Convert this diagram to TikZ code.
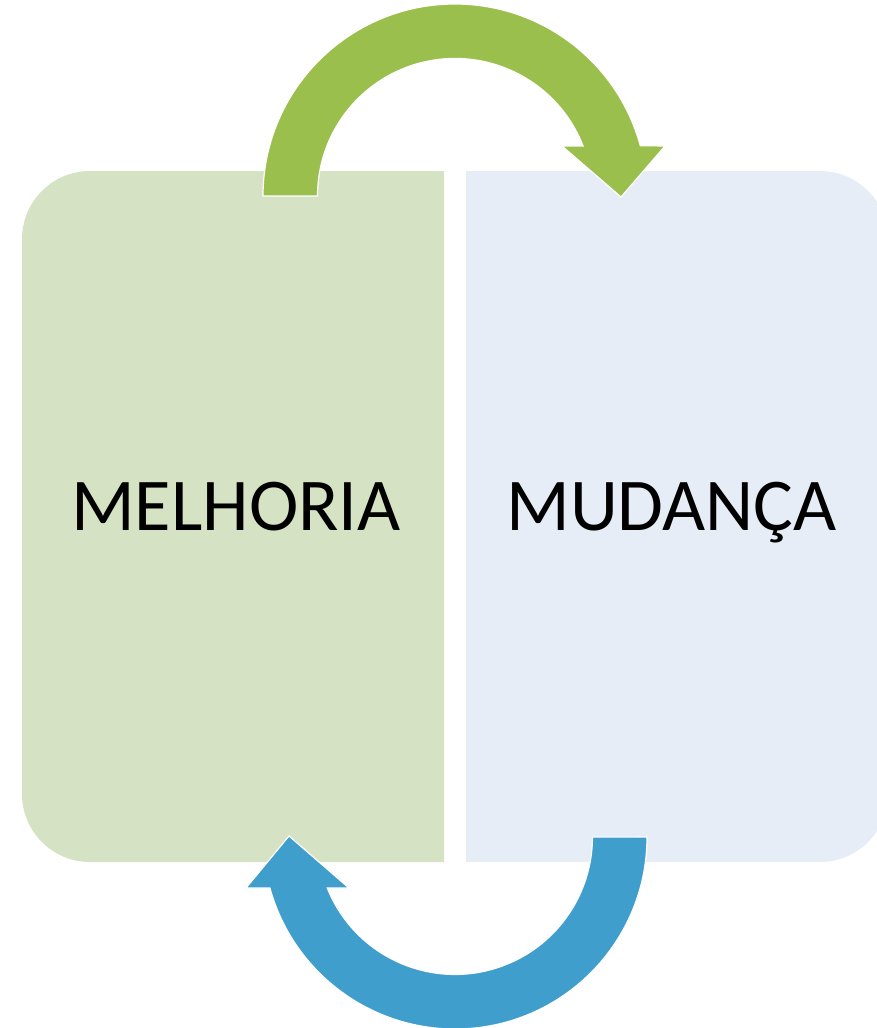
\documentclass[tikz,border=0pt]{standalone}
\usepackage{fontspec}
\setmainfont{Carlito}
\definecolor{leftfill}{RGB}{213,226,195}
\definecolor{rightfill}{RGB}{231,237,246}
\definecolor{greenarrow}{RGB}{155,191,76}
\definecolor{bluearrow}{RGB}{64,158,205}
\tikzset{
  label text/.style={font=\fontsize{74.5}{80}\selectfont, text=black, anchor=base, inner sep=0pt},
  cyclearrow/.style={draw=white, line width=1.2pt, line join=miter}
}
\begin{document}
\begin{tikzpicture}[x=1pt,y=1pt]
\useasboundingbox (0,0) rectangle (876,-1028);
% boxes
\fill[leftfill] (444,-171) -- (90,-171) arc[start angle=90,end angle=180,radius=68]
  -- (22,-794) arc[start angle=180,end angle=270,radius=68] -- (444,-862) -- cycle;
\fill[rightfill] (466,-171) -- (820,-171) arc[start angle=90,end angle=0,radius=68]
  -- (888,-794) arc[start angle=0,end angle=-90,radius=68] -- (466,-862) -- cycle;
% labels
\node[label text] (melhoria) at (236,-530) {MELHORIA};
\node[label text] (mudanca) at (671.5,-530) {MUDANÇA};
% green arrow (top)
\fill[greenarrow, cyclearrow] (263,-196) arc[start angle=180,end angle=15.2,radius=192]
  -- (665,-146) -- (621,-197) -- (562,-146) -- (583.1,-146)
  arc[start angle=21.3,end angle=180,radius=137.5] -- cycle;
% blue arrow (bottom)
\fill[bluearrow, cyclearrow] (647,-837) arc[start angle=0,end angle=-164.6,radius=192]
  -- (246,-888) -- (289,-836) -- (349,-888) -- (327.3,-888)
  arc[start angle=-158.2,end angle=0,radius=137.5] -- cycle;
\end{tikzpicture}
\end{document}
